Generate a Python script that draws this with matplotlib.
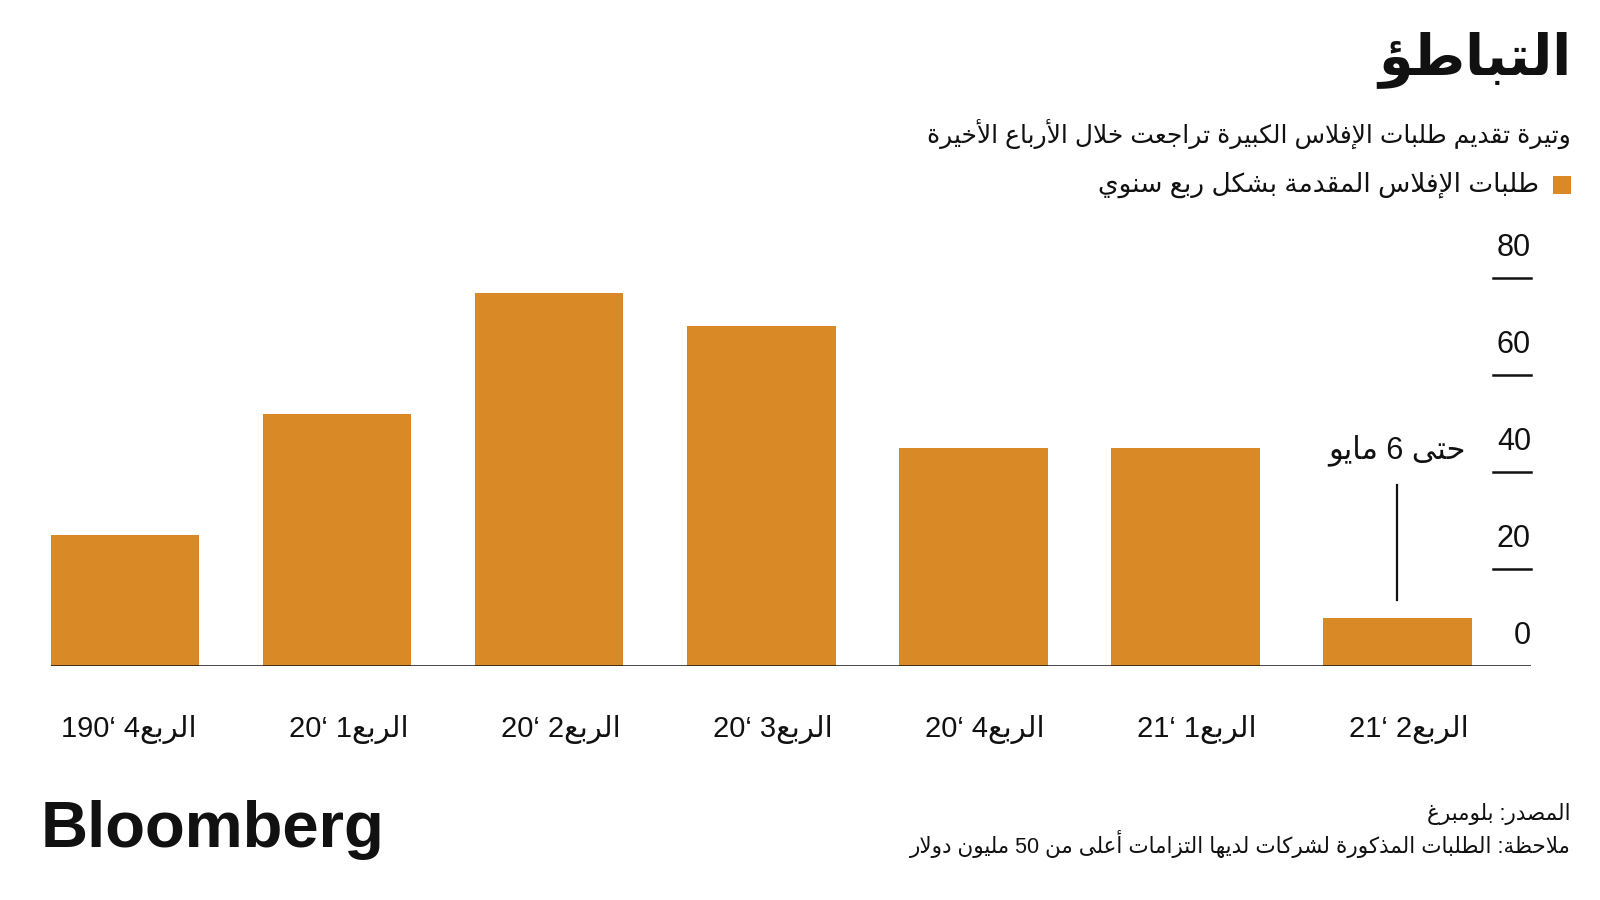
import re
import matplotlib
matplotlib.use("Agg")
import matplotlib.pyplot as plt
import matplotlib.transforms as mtransforms
from matplotlib.patches import Rectangle

# ---- data -------------------------------------------------------------
quarters = ['4', '1', '2', '3', '4', '1', '2']
years = ['190', '20', '20', '20', '20', '21', '21']
filings = [27, 52, 77, 70, 45, 45, 10]
yticks = [0, 20, 40, 60, 80]

TITLE = "التباطؤ"
SUBTITLE = "وتيرة تقديم طلبات الإفلاس الكبيرة تراجعت خلال الأرباع الأخيرة"
LEGEND = "طلبات الإفلاس المقدمة بشكل ربع سنوي"
QUARTER_WORD = "الربع"
NOTE_LAST = "حتى 6 مايو"
SOURCE = "المصدر: بلومبرغ"
NOTE = "ملاحظة: الطلبات المذكورة لشركات لديها التزامات أعلى من 50 مليون دولار"

ORANGE = '#D98A26'
INK = '#111111'

# ---- minimal arabic shaping (matplotlib has no bidi / joining) -------
FORMS = {
    'ء': (0xFE80,), 'آ': (0xFE81, 0xFE82), 'أ': (0xFE83, 0xFE84),
    'ؤ': (0xFE85, 0xFE86), 'إ': (0xFE87, 0xFE88), 'ئ': (0xFE89, 0xFE8A, 0xFE8B, 0xFE8C),
    'ا': (0xFE8D, 0xFE8E), 'ب': (0xFE8F, 0xFE90, 0xFE91, 0xFE92), 'ة': (0xFE93, 0xFE94),
    'ت': (0xFE95, 0xFE96, 0xFE97, 0xFE98), 'ث': (0xFE99, 0xFE9A, 0xFE9B, 0xFE9C),
    'ج': (0xFE9D, 0xFE9E, 0xFE9F, 0xFEA0), 'ح': (0xFEA1, 0xFEA2, 0xFEA3, 0xFEA4),
    'خ': (0xFEA5, 0xFEA6, 0xFEA7, 0xFEA8), 'د': (0xFEA9, 0xFEAA), 'ذ': (0xFEAB, 0xFEAC),
    'ر': (0xFEAD, 0xFEAE), 'ز': (0xFEAF, 0xFEB0), 'س': (0xFEB1, 0xFEB2, 0xFEB3, 0xFEB4),
    'ش': (0xFEB5, 0xFEB6, 0xFEB7, 0xFEB8), 'ص': (0xFEB9, 0xFEBA, 0xFEBB, 0xFEBC),
    'ض': (0xFEBD, 0xFEBE, 0xFEBF, 0xFEC0), 'ط': (0xFEC1, 0xFEC2, 0xFEC3, 0xFEC4),
    'ظ': (0xFEC5, 0xFEC6, 0xFEC7, 0xFEC8), 'ع': (0xFEC9, 0xFECA, 0xFECB, 0xFECC),
    'غ': (0xFECD, 0xFECE, 0xFECF, 0xFED0), 'ف': (0xFED1, 0xFED2, 0xFED3, 0xFED4),
    'ق': (0xFED5, 0xFED6, 0xFED7, 0xFED8), 'ك': (0xFED9, 0xFEDA, 0xFEDB, 0xFEDC),
    'ل': (0xFEDD, 0xFEDE, 0xFEDF, 0xFEE0), 'م': (0xFEE1, 0xFEE2, 0xFEE3, 0xFEE4),
    'ن': (0xFEE5, 0xFEE6, 0xFEE7, 0xFEE8), 'ه': (0xFEE9, 0xFEEA, 0xFEEB, 0xFEEC),
    'و': (0xFEED, 0xFEEE), 'ى': (0xFEEF, 0xFEF0), 'ي': (0xFEF1, 0xFEF2, 0xFEF3, 0xFEF4),
}
LAMALEF = {'آ': (0xFEF5, 0xFEF6), 'أ': (0xFEF7, 0xFEF8), 'إ': (0xFEF9, 0xFEFA), 'ا': (0xFEFB, 0xFEFC)}
DUAL = {c for c, f in FORMS.items() if len(f) == 4}


def shape(s):
    toks, i = [], 0
    while i < len(s):
        if s[i] == 'ل' and i + 1 < len(s) and s[i + 1] in LAMALEF:
            toks.append(s[i:i + 2]); i += 2
        else:
            toks.append(s[i]); i += 1
    out = []
    for k, t in enumerate(toks):
        prev = toks[k - 1] if k > 0 else ''
        nxt = toks[k + 1] if k + 1 < len(toks) else ''
        pj = prev in DUAL
        nj = t in DUAL and (nxt in FORMS or len(nxt) == 2) and nxt != 'ء'
        if len(t) == 2:
            out.append(chr(LAMALEF[t[1]][1 if pj else 0]))
        elif t in FORMS:
            f = FORMS[t]
            if len(f) == 4:
                out.append(chr(f[{(0, 0): 0, (1, 0): 1, (0, 1): 2, (1, 1): 3}[(pj, nj)]]))
            elif len(f) == 2:
                out.append(chr(f[1 if pj else 0]))
            else:
                out.append(chr(f[0]))
        else:
            out.append(t)
    return ''.join(out)


def ar(s):
    # shape, then lay out right-to-left keeping digit runs left-to-right
    s = shape(s)
    parts = re.split(r'([0-9A-Za-z]+)', s)
    vis = []
    for p in reversed(parts):
        vis.append(p if re.fullmatch(r'[0-9A-Za-z]+', p) else p[::-1])
    return ''.join(vis)


FAM = ['Liberation Sans', 'DejaVu Sans']
plt.rcParams['font.family'] = FAM

fig = plt.figure(figsize=(16, 9), dpi=100)
fig.patch.set_facecolor('white')
W, H = 1600, 900
ax = fig.add_axes([51 / W, 1 - 666 / H, 1480 / W, 388 / H])

x = list(range(len(filings)))
ax.bar(x, filings, width=0.7, color=ORANGE, zorder=2)
ax.set_xlim(-0.35, 6.63)
ax.set_ylim(0, 80)
ax.axhline(0, color=INK, lw=1.8, zorder=3)
for s in ax.spines.values():
    s.set_visible(False)
ax.set_xticks([]); ax.set_yticks([])

# right-hand value scale: number above a short dash
blend = mtransforms.blended_transform_factory(ax.transAxes, ax.transData)
for v in yticks:
    if v:
        ax.plot([1 - 38 / 1480, 1], [v, v], transform=blend, color=INK, lw=1.8, clip_on=False)
    ax.annotate(str(v), xy=(1, v), xycoords=blend, xytext=(0, 11), textcoords='offset points',
                ha='right', va='bottom', fontsize=22, color=INK)

# category labels, aligned to each bar's right edge
for i, (q, yr) in enumerate(zip(quarters, years)):
    ax.annotate(f"{yr}‘ {q}" + ar(QUARTER_WORD), xy=(i + 0.35, 0), xycoords='data',
                xytext=(-2, -46), textcoords='offset points', ha='right', va='center',
                fontsize=21, color=INK)

# note on the last (partial) quarter
last = len(filings) - 1
ax.plot([last, last], [filings[last] + 3.6, filings[last] + 27.3], color=INK, lw=1.6)
ax.text(last + 0.32, filings[last] + 34.5, ar(NOTE_LAST), ha='right', va='center',
        fontsize=22, color=INK)

# header
fig.text(1571 / W, 1 - 60 / H, ar(TITLE), ha='right', va='center', fontsize=40,
         fontweight='bold', color=INK)
fig.text(1571 / W, 1 - 134 / H, ar(SUBTITLE), ha='right', va='center', fontsize=18, color=INK)
fig.patches.append(Rectangle((1553 / W, 1 - 194 / H), 18 / W, 18 / H, transform=fig.transFigure,
                             facecolor=ORANGE, edgecolor='none'))
fig.text(1539 / W, 1 - 185 / H, ar(LEGEND), ha='right', va='center', fontsize=19, color=INK)

# footer
fig.text(41 / W, 1 - 830 / H, "Bloomberg", ha='left', va='center', fontsize=47,
         fontweight='bold', color=INK)
fig.text(1571 / W, 1 - 814 / H, ar(SOURCE), ha='right', va='center', fontsize=15.5, color=INK)
fig.text(1571 / W, 1 - 844 / H, ar(NOTE), ha='right', va='center', fontsize=15.5, color=INK)

fig.savefig("out.png", dpi=100, facecolor='white')
